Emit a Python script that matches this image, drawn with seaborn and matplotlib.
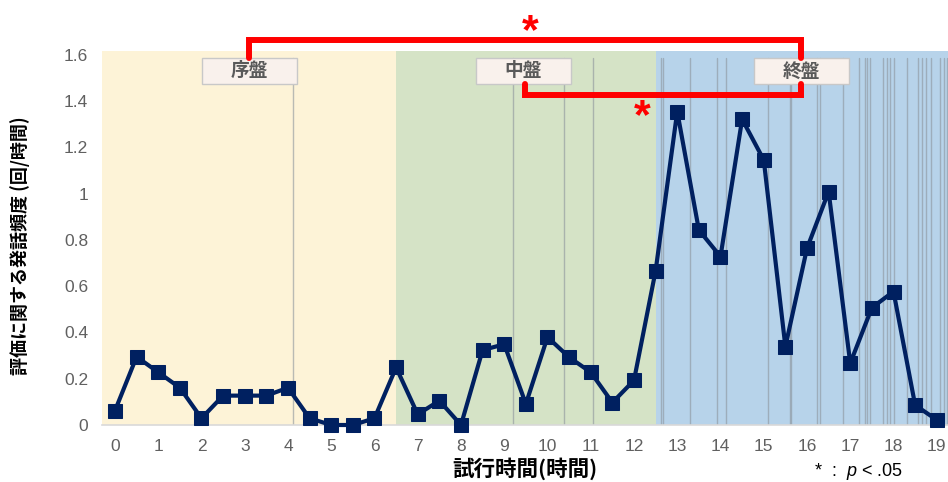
import matplotlib
matplotlib.use("Agg")
import matplotlib.pyplot as plt
import seaborn as sns
import pandas as pd
from matplotlib.patches import Rectangle

# ---- data ----
hours = [0, 0.5, 1, 1.5, 2, 2.5, 3, 3.5, 4, 4.5, 5, 5.5, 6, 6.5, 7, 7.5, 8, 8.5, 9, 9.5,
         10, 10.5, 11, 11.5, 12, 12.5, 13, 13.5, 14, 14.5, 15, 15.5, 16, 16.5, 17, 17.5,
         18, 18.5, 19]
freq = [0.062, 0.295, 0.228, 0.161, 0.029, 0.127, 0.127, 0.127, 0.161, 0.029, 0.0, 0.0,
        0.029, 0.249, 0.046, 0.105, 0.0, 0.324, 0.349, 0.091, 0.38, 0.293, 0.228, 0.097,
        0.193, 0.667, 1.355, 0.843, 0.728, 1.322, 1.146, 0.339, 0.764, 1.009, 0.267,
        0.507, 0.577, 0.086, 0.022]
phase_names = ["序盤", "中盤", "終盤"]
phase_bounds = [-0.3, 6.5, 12.5, 19.26]
phase_label_x = [3.11, 9.44, 15.87]
event_lines = [4.115, 9.20, 10.38, 11.05, 12.62, 12.67, 13.29, 13.92, 14.12, 15.09,
               15.60, 15.63, 16.23, 16.30, 16.83, 17.20, 17.34, 17.38, 17.45, 17.75,
               17.84, 17.91, 18.01, 18.31, 18.56, 18.65, 18.75, 18.86, 19.07, 19.16, 19.23]
x_ticks = list(range(0, 20))
y_ticks = [0, 0.2, 0.4, 0.6, 0.8, 1.0, 1.2, 1.4, 1.6]
y_tick_labels = ["0", "0.2", "0.4", "0.6", "0.8", "1", "1.2", "1.4", "1.6"]

sns.set_theme(style="white")
plt.rcParams['font.family'] = ['Liberation Sans', 'Noto Sans CJK JP', 'DejaVu Sans']
plt.rcParams['mathtext.fontset'] = 'custom'
plt.rcParams['mathtext.it'] = 'Liberation Sans:italic'
plt.rcParams['mathtext.rm'] = 'Liberation Sans'

W, H = 948, 482
fig = plt.figure(figsize=(W / 100, H / 100), dpi=100)
ax = fig.add_axes([102 / W, (H - 425) / H, (948 - 102) / W, (425 - 51) / H])

phase_colors = ["#fdf3d7", "#d5e3c6", "#b7d3ea"]
for i in range(3):
    ax.axvspan(phase_bounds[i], phase_bounds[i + 1], color=phase_colors[i], lw=0, zorder=0)

for xv in event_lines:
    ax.axvline(xv, ymin=0, ymax=1.585 / 1.617, color="#8c949c", lw=1.0, alpha=0.6, zorder=1)

df = pd.DataFrame({"hour": hours, "freq": freq})
sns.lineplot(data=df, x="hour", y="freq", ax=ax, color="#002060", lw=3,
             marker="s", markersize=10.5, markeredgecolor="#002060", clip_on=False, zorder=5)

ax.set_xlim(phase_bounds[0], phase_bounds[-1])
ax.set_ylim(0, 1.617)
ax.set_xticks(x_ticks)
ax.set_xticklabels([str(v) for v in x_ticks])
ax.set_yticks(y_ticks)
ax.set_yticklabels(y_tick_labels)
ax.tick_params(axis="both", length=0, labelsize=12.5, labelcolor="#606060")
ax.tick_params(axis="x", pad=10)
ax.tick_params(axis="y", pad=10)
for s in ["top", "right", "left"]:
    ax.spines[s].set_visible(False)
ax.spines["bottom"].set_color("#d9d9d9")
ax.spines["bottom"].set_linewidth(1.2)
ax.set_xlabel("")
ax.set_ylabel("")

# phase label boxes
bw, bh = 2.2, 0.112
for name, cx in zip(phase_names, phase_label_x):
    ax.add_patch(Rectangle((cx - bw / 2, 1.475), bw, bh, facecolor="#f9f1ec",
                           edgecolor="#c8c8c8", lw=1, zorder=6, clip_on=False))
    ax.text(cx, 1.475 + bh / 2, name, ha="center", va="center", fontsize=13.5,
            fontweight="bold", color="#595959", zorder=7,
            family=['Noto Sans CJK JP'])

# significance brackets
red = "#ff0000"
ax.plot([3.10, 3.10, 15.86, 15.86], [1.587, 1.665, 1.665, 1.587], color=red, lw=4.3,
        clip_on=False, zorder=8, solid_joinstyle="miter")
ax.plot([9.48, 9.48, 15.86, 15.86], [1.475, 1.427, 1.427, 1.475], color=red, lw=4.3,
        clip_on=False, zorder=8, solid_joinstyle="miter")
ax.text(9.59, 1.70, "*", color=red, fontsize=31, fontweight="bold", ha="center",
        va="center", clip_on=False, zorder=9)
ax.text(12.18, 1.33, "*", color=red, fontsize=31, fontweight="bold", ha="center",
        va="center", clip_on=False, zorder=9)

# axis titles
fig.text(525 / W, 1 - 469 / H, "試行時間(時間)", ha="center", va="center", fontsize=15.5,
         fontweight="bold", color="black", family=['Noto Sans CJK JP'])
fig.text(20 / W, 1 - 246 / H, "評価に関する発話頻度 (回/時間)", ha="center", va="center",
         fontsize=13, fontweight="bold", color="black", rotation=90,
         family=['Noto Sans CJK JP'])
fig.text(858 / W, 1 - 471 / H, r"*  :  $\mathit{p}$ < .05", ha="center", va="center",
         fontsize=13, color="black")

fig.savefig("out.png", dpi=100)
